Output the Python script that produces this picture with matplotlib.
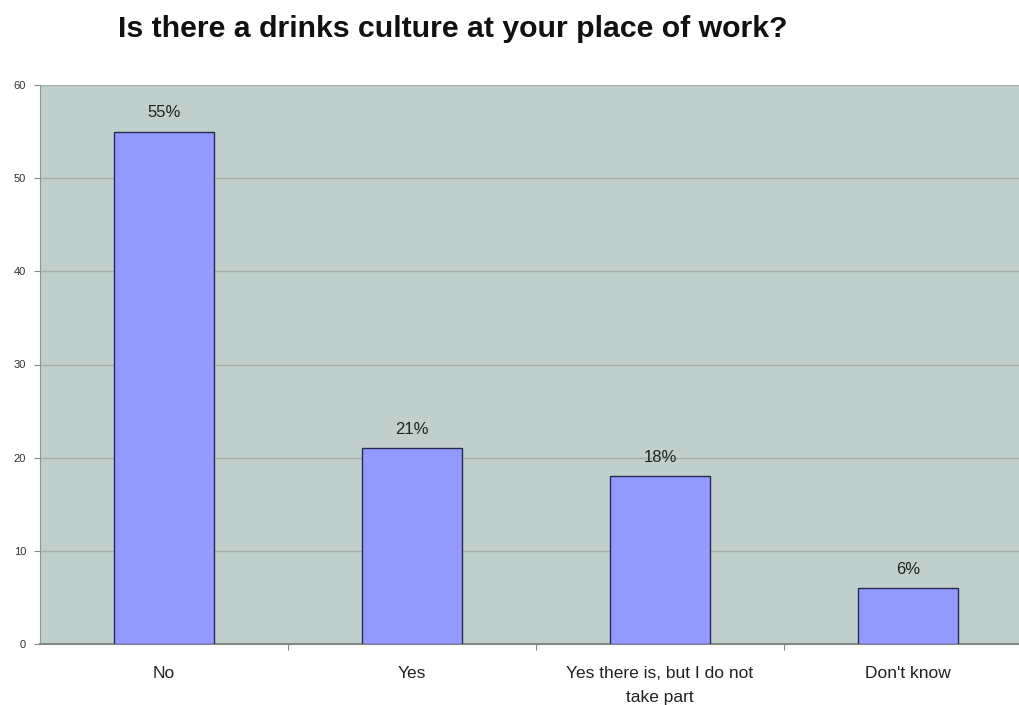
import matplotlib
matplotlib.use("Agg")
import matplotlib.pyplot as plt

categories = ["No", "Yes", "Yes there is, but I do not\ntake part", "Don't know"]
values = [55, 21, 18, 6]
labels = ["55%", "21%", "18%", "6%"]
yticks = [0, 10, 20, 30, 40, 50, 60]

plt.rcParams['font.family'] = ['Liberation Sans', 'DejaVu Sans']

fig = plt.figure(figsize=(10.19, 7.05), dpi=100)
ax = fig.add_axes([40/1019, 61/705, 992/1019, 559/705])
ax.set_facecolor("#c0cfcb")

x = list(range(len(categories)))
ax.bar(x, values, width=0.4, color="#9399ff", edgecolor="#2a2a50", linewidth=1.0, zorder=3)
for xi, v, lab in zip(x, values, labels):
    ax.text(xi, v + 1.2, lab, ha="center", va="bottom", fontsize=12, color="#222222", zorder=4)

ax.set_xlim(-0.5, 3.5)
ax.set_ylim(0, 60)
ax.set_yticks(yticks)
ax.set_yticklabels([str(t) for t in yticks], fontsize=8, color="#333333")
ax.set_xticks([0.5, 1.5, 2.5], minor=False)
ax.set_xticklabels([])
ax.set_xticks(x, minor=True)
ax.set_xticklabels(categories, minor=True, fontsize=12.5, color="#222222", linespacing=1.75)
ax.tick_params(axis="x", which="minor", length=0, pad=16)
ax.tick_params(axis="x", which="major", length=4, color="#888888")
ax.tick_params(axis="y", length=4, color="#888888", pad=6)
ax.yaxis.grid(True, color="#a2aeab", linewidth=1.0, zorder=0)
for side in ["top", "right"]:
    ax.spines[side].set_visible(False)
ax.spines["left"].set_color("#8a9895")
ax.spines["bottom"].set_color("#7f8a88")
ax.spines["bottom"].set_linewidth(1.5)

fig.text(118/1019, 1 - 29/705, "Is there a drinks culture at your place of work?",
         ha="left", va="center", fontsize=21.8, fontweight="bold", color="#111111")

fig.savefig("out.png", dpi=100, facecolor="white")
